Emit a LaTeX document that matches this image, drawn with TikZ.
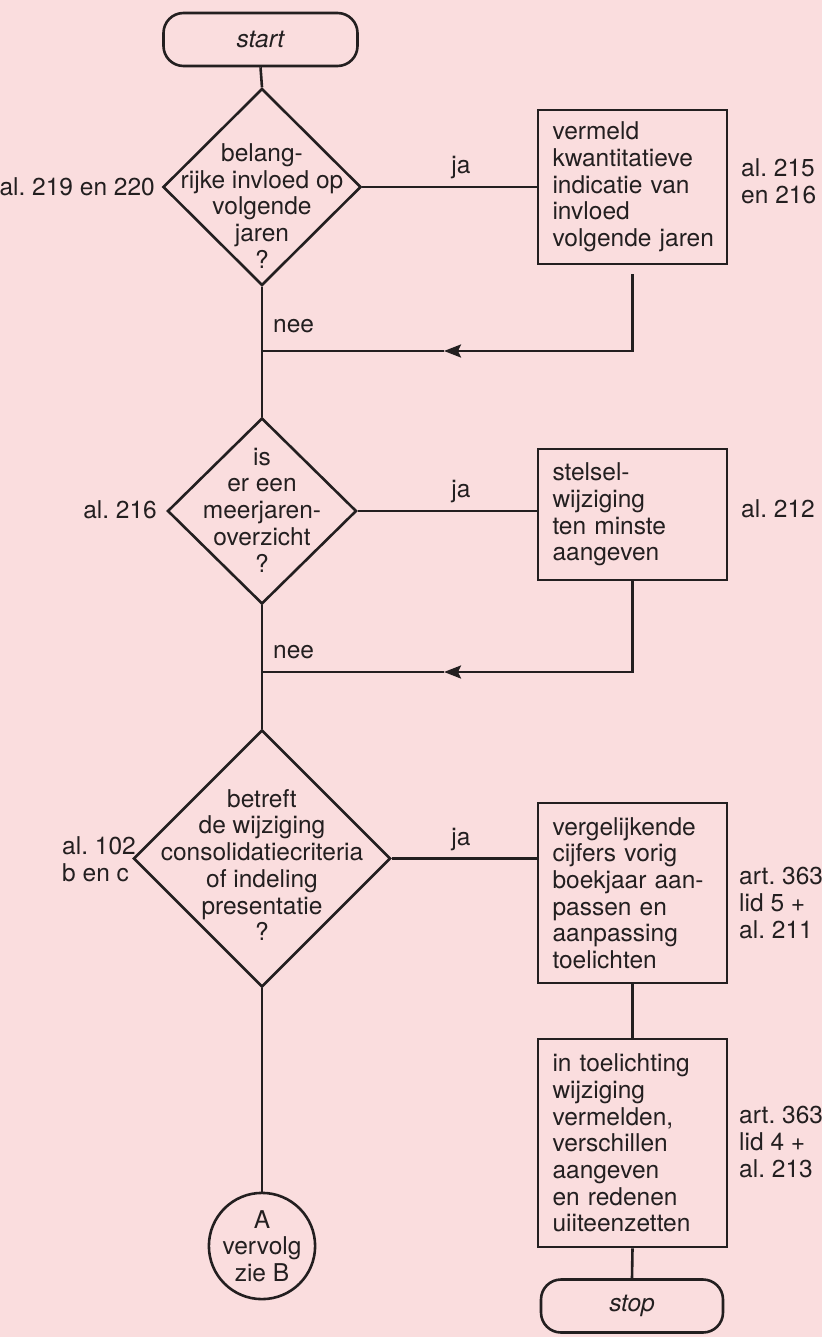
\documentclass[tikz,border=0pt]{standalone}
\usepackage{fontspec}
\setmainfont{TeX Gyre Heros}
\usetikzlibrary{shapes.geometric,arrows.meta}
\definecolor{bg}{RGB}{250,221,222}
\definecolor{ink}{RGB}{35,31,32}
\frenchspacing
\begin{document}
\begin{tikzpicture}[x=1pt,y=-1pt,
  every node/.style={text=ink, inner sep=0pt, font=\fontsize{24.5}{26.7}\selectfont},
  line/.style={draw=ink, line width=2.6pt},
  tip/.style={-{Stealth[length=17pt,width=13pt,inset=3pt]}},
  box/.style={draw=ink, line width=2.6pt, rectangle, inner xsep=14.5pt, inner ysep=0pt, text width=160pt, align=left, minimum height=#1},
  dia/.style={draw=ink, line width=2.6pt, shape=diamond, inner sep=0pt},
  dtext/.style={align=center},
  term/.style={draw=ink, line width=2.6pt, rectangle, rounded corners=20pt, minimum height=53pt, font=\fontsize{24.5}{26.7}\selectfont\itshape},
  lab/.style={align=left}]
\fill[bg] (0,0) rectangle (822,1337);
\useasboundingbox (0,0) rectangle (822,1337);

% start
\node[term, minimum width=194pt] (start) at (260.5,39.5) {start};

% decision 1
\node[dia, minimum width=198pt, minimum height=197pt] (d1) at (262,187) {};
\node[dtext] (q1) at (262,206) {belang-\\rijke invloed op\\volgende\\jaren\\?};
\node[anchor=east] (l1) at (155,187) {al. 219 en 220};
\node[box=154pt] (b1) at (632.5,187) {vermeld\\kwantitatieve\\indicatie~van\\invloed\\volgende~jaren};
\node[lab, anchor=west] (l2) at (741,181) {al. 215\\en 216};
\draw[line] (d1.east) -- (d1.east -| b1.west);
\node (ja1) at (461,168) {ja};

\coordinate (j1) at (262,351);
\coordinate (a1) at (444,351);
\coordinate (r1) at ([yshift=-9pt]b1.south);
\draw[line, tip] (r1) |- (a1);
\draw[line] (a1) -- (j1);
\node[anchor=west] (nee1) at (273,326) {nee};

% decision 2
\node[dia, minimum width=189pt, minimum height=186pt] (d2) at (262,511) {};
\node[dtext] (q2) at (262,510) {is\\er een\\meerjaren-\\overzicht\\?};
\node[anchor=east] (l3) at (157,510) {al. 216};
\draw[line] (d1.south) -- (d2.north);
\node[box=131pt] (b2) at (632.5,514.5) {stelsel-\\wijziging\\ten~minste\\aangeven};
\node[anchor=west] (l4) at (741,509) {al. 212};
\draw[line] (d2.east) -- (d2.east -| b2.west);
\node (ja2) at (461,492) {ja};

\coordinate (j2) at (262,672);
\coordinate (a2) at (444,672);
\draw[line, tip] (b2.south) |- (a2);
\draw[line] (a2) -- (j2);
\node[anchor=west] (nee2) at (273,652) {nee};

% decision 3
\node[dia, minimum width=257pt, minimum height=257pt] (d3) at (262,858.5) {};
\node[dtext] (q3) at (262,865) {betreft\\de wijziging\\consolidatiecriteria\\of indeling\\presentatie\\?};
\node[lab, anchor=west] (l5) at (62,859.5) {al. 102\\b en c};
\draw[line] (d2.south) -- (d3.north);
\node[box=180pt] (b3) at (632.5,893) {vergelijkende\\cijfers~vorig\\boekjaar~aan-\\passen~en\\aanpassing\\toelichten};
\node[lab, anchor=west] (l6) at (739,903) {art. 363\\lid 5 +\\al. 211};
\draw[line] (d3.east) -- (d3.east -| b3.west);
\node (ja3) at (461,840) {ja};

\node[box=208pt] (b4) at (632.5,1143) {in~toelichting\\wijziging\\vermelden,\\verschillen\\aangeven\\en~redenen\\uiiteenzetten};
\node[lab, anchor=west] (l7) at (739,1142) {art. 363\\lid 4 +\\al. 213};
\draw[line] (b3.south) -- (b4.north);

\node[term, minimum width=182pt] (stop) at (632,1306) {stop};
\draw[line] (b4.south) -- (stop.north);

\node[draw=ink, line width=2.6pt, circle, minimum size=102pt, align=center] (A) at (262,1246) {A\\vervolg\\zie B};
\draw[line] (d3.south) -- (A.north);

\draw[line] (start.south) -- (d1.north);
\end{tikzpicture}
\end{document}
